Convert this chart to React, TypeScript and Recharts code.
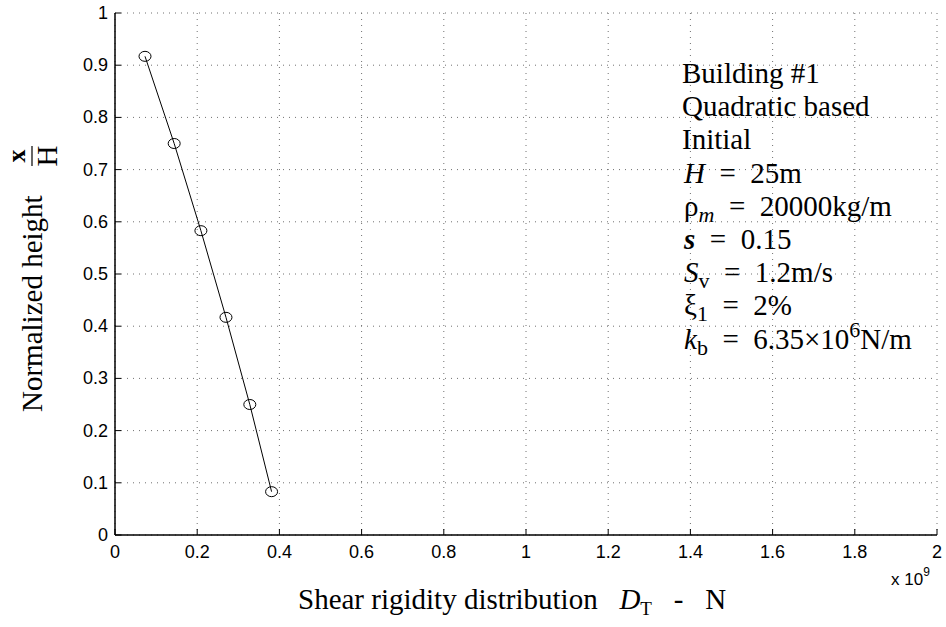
import React from 'react'
import { LineChart, Line, XAxis, YAxis, CartesianGrid } from 'recharts'

// Shear rigidity (x 10^9 N) vs normalized height x/H
const rigidity = [0.073, 0.144, 0.209, 0.27, 0.328, 0.381]
const normHeight = [0.917, 0.75, 0.583, 0.417, 0.25, 0.083]

const xTicks = [0, 0.2, 0.4, 0.6, 0.8, 1, 1.2, 1.4, 1.6, 1.8, 2]
const yTicks = [0, 0.1, 0.2, 0.3, 0.4, 0.5, 0.6, 0.7, 0.8, 0.9, 1]

const data = rigidity.map((r, i) => ({ x: r, y: normHeight[i] }))

const SERIF = '"Liberation Serif", "Times New Roman", serif'
const SANS = '"Liberation Sans", Arial, sans-serif'
const SP = '\u00a0'
const EQ = `${SP}${SP}=${SP}${SP}`

const fmt = (v: number) => String(v)

const BottomTick = (props: any) => {
  const { x, y, payload } = props
  return (
    <g>
      <line x1={x} y1={y} x2={x} y2={y - 6} stroke="#000" />
      <text x={x} y={y + 23} textAnchor="middle" fontFamily={SANS} fontSize={18} fill="#000">
        {fmt(payload.value)}
      </text>
    </g>
  )
}

const LeftTick = (props: any) => {
  const { x, y, payload } = props
  return (
    <g>
      <line x1={x} y1={y} x2={x + 6} y2={y} stroke="#000" />
      <text x={x - 7} y={y + 6} textAnchor="end" fontFamily={SANS} fontSize={18} fill="#000">
        {fmt(payload.value)}
      </text>
    </g>
  )
}

const TopTick = (props: any) => {
  const { x, y } = props
  return <line x1={x} y1={y} x2={x} y2={y + 6} stroke="#000" />
}

const RightTick = (props: any) => {
  const { x, y } = props
  return <line x1={x} y1={y} x2={x - 6} y2={y} stroke="#000" />
}

const CircleDot = (props: any) => {
  const { cx, cy, index } = props
  return <ellipse key={index} cx={cx} cy={cy} rx={6} ry={5} fill="none" stroke="#000" strokeWidth={1} />
}

const lineY = (i: number) => 83 + 33.2 * i

export default function App() {
  return (
    <div style={{ position: 'absolute', left: 0, top: 0, width: 946, height: 627, background: '#fff' }}>
      <LineChart width={946} height={627} data={data} margin={{ top: 13, right: 9, left: 0, bottom: 0 }}>
        <CartesianGrid stroke="#707070" strokeDasharray="1 5" />
        <XAxis
          type="number"
          dataKey="x"
          domain={[0, 2]}
          ticks={xTicks}
          interval={0}
          height={92}
          tickSize={0}
          tickMargin={0}
          tickLine={false}
          axisLine={{ stroke: '#000', strokeWidth: 1.5 }}
          tick={<BottomTick />}
        />
        <XAxis
          xAxisId="top"
          orientation="top"
          type="number"
          dataKey="x"
          domain={[0, 2]}
          ticks={xTicks}
          interval={0}
          height={0}
          tickSize={0}
          tickMargin={0}
          tickLine={false}
          axisLine={{ stroke: '#000', strokeWidth: 1.5 }}
          tick={<TopTick />}
        />
        <YAxis
          type="number"
          domain={[0, 1]}
          ticks={yTicks}
          interval={0}
          width={115}
          tickSize={0}
          tickMargin={0}
          tickLine={false}
          axisLine={{ stroke: '#000', strokeWidth: 1.5 }}
          tick={<LeftTick />}
        />
        <YAxis
          yAxisId="right"
          orientation="right"
          type="number"
          domain={[0, 1]}
          ticks={yTicks}
          interval={0}
          width={0}
          tickSize={0}
          tickMargin={0}
          tickLine={false}
          axisLine={{ stroke: '#000', strokeWidth: 1.5 }}
          tick={<RightTick />}
        />
        <Line
          dataKey="y"
          stroke="#000"
          strokeWidth={1}
          dot={<CircleDot />}
          isAnimationActive={false}
        />
      </LineChart>

      <svg
        width={946}
        height={627}
        style={{ position: 'absolute', left: 0, top: 0, pointerEvents: 'none' }}
      >
        {/* y axis label */}
        <g transform="rotate(-90)" fontFamily={SERIF} fill="#000">
          <text x={-412} y={42} fontSize={29}>Normalized height</text>
          <text x={-156} y={25} fontSize={26} textAnchor="middle" fontWeight="bold">x</text>
          <line x1={-166} y1={32} x2={-146} y2={32} stroke="#000" strokeWidth={1.2} />
          <text x={-156} y={57} fontSize={29} textAnchor="middle">H</text>
        </g>

        {/* x axis label */}
        <text x={298} y={609} fontFamily={SERIF} fontSize={29} fill="#000">
          {`Shear rigidity distribution${SP}${SP}${SP}`}
          <tspan fontStyle="italic">D</tspan>
          <tspan fontSize={19} dy={6}>T</tspan>
          <tspan dy={-6}>{`${SP}${SP}${SP}-${SP}${SP}${SP}N`}</tspan>
        </text>

        {/* exponent */}
        <text x={891} y={585} fontFamily={SANS} fontSize={17} fill="#000">
          x 10<tspan fontSize={12} dy={-9}>9</tspan>
        </text>

        {/* annotation */}
        <g fontFamily={SERIF} fontSize={29} fill="#000">
          <text x={682} y={lineY(0)}>Building #1</text>
          <text x={682} y={lineY(1)}>Quadratic based</text>
          <text x={682} y={lineY(2)}>Initial</text>
          <text x={684} y={lineY(3)}>
            <tspan fontStyle="italic">H</tspan>{`${EQ}25m`}
          </text>
          <text x={684} y={lineY(4)}>
            {'ρ'}<tspan fontStyle="italic" fontSize={22} dy={6}>m</tspan>
            <tspan dy={-6}>{`${EQ}20000kg/m`}</tspan>
          </text>
          <text x={684} y={lineY(5)}>
            <tspan fontStyle="italic" fontWeight="bold">s</tspan>{`${EQ}0.15`}
          </text>
          <text x={684} y={lineY(6)}>
            <tspan fontStyle="italic">S</tspan>
            <tspan fontSize={22} dy={6}>v</tspan>
            <tspan dy={-6}>{`${EQ}1.2m/s`}</tspan>
          </text>
          <text x={684} y={lineY(7)}>
            {'ξ'}<tspan fontSize={22} dy={6}>1</tspan>
            <tspan dy={-6}>{`${EQ}2%`}</tspan>
          </text>
          <text x={684} y={lineY(8)}>
            <tspan fontStyle="italic">k</tspan>
            <tspan fontSize={22} dy={6}>b</tspan>
            <tspan dy={-6}>{`${EQ}6.35×10`}</tspan>
            <tspan fontSize={22} dy={-12}>6</tspan>
            <tspan dy={12}>N/m</tspan>
          </text>
        </g>
      </svg>
    </div>
  )
}
